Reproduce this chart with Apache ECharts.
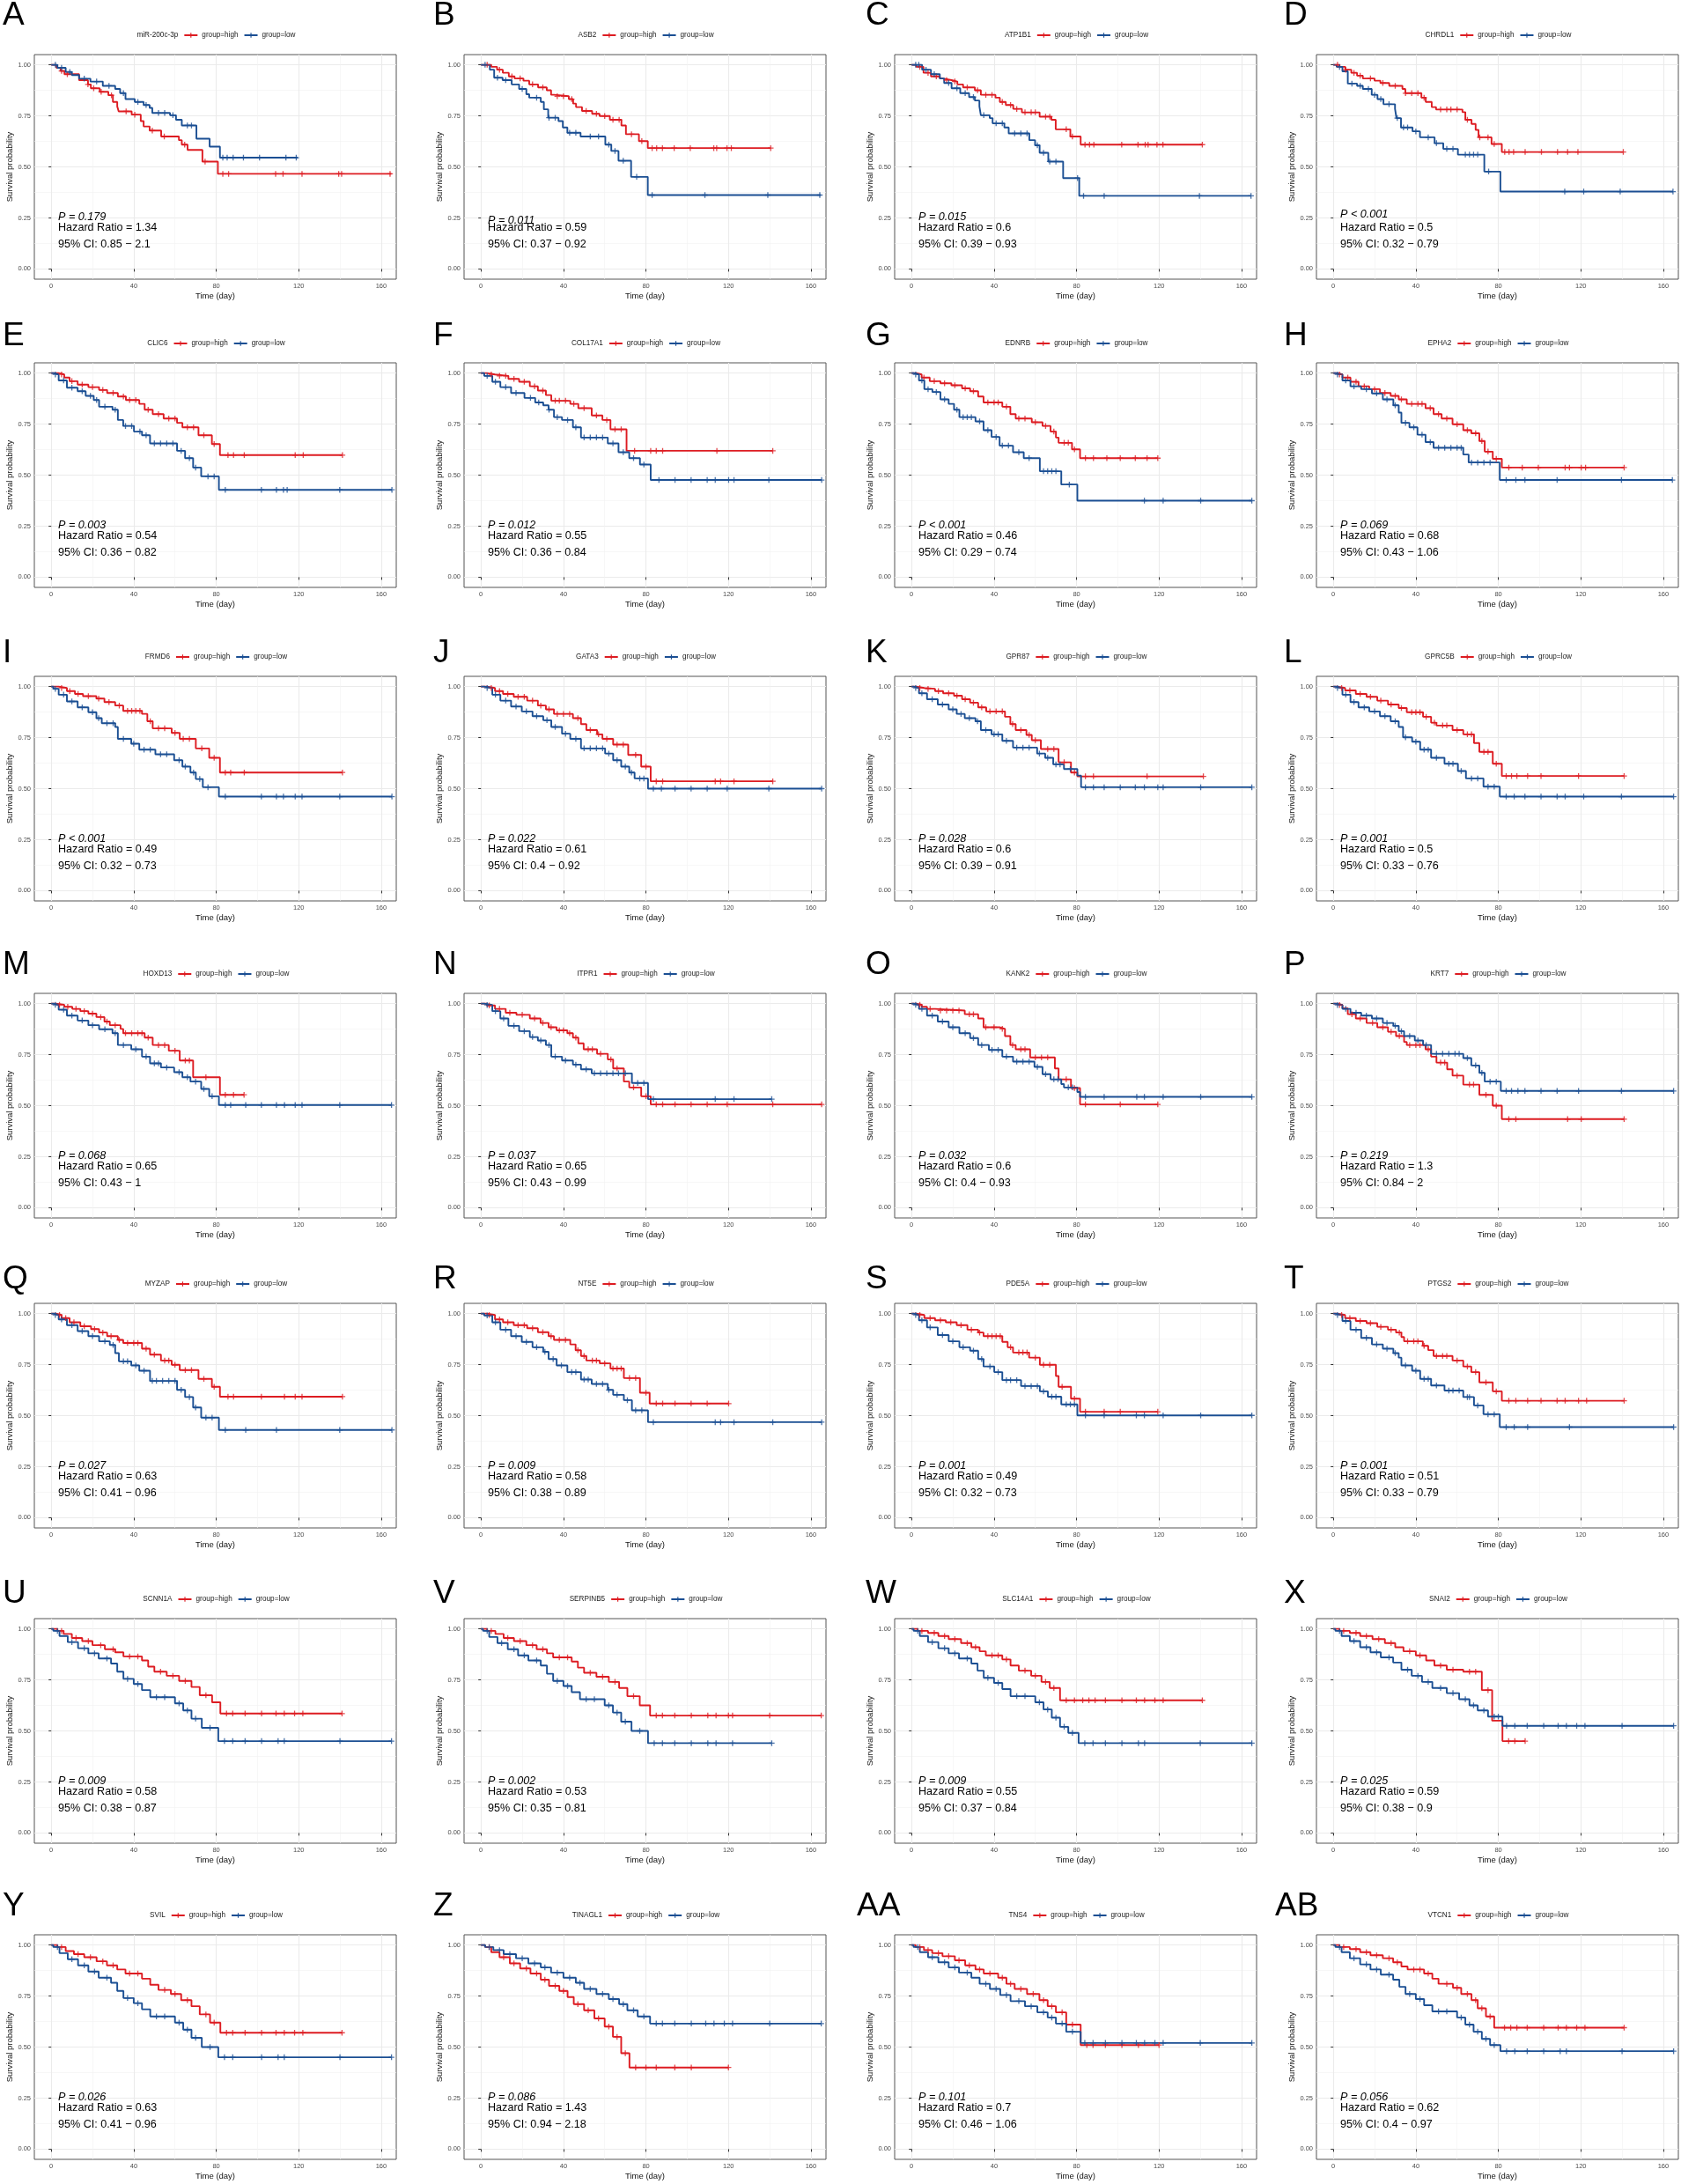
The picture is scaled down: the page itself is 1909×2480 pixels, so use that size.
<!DOCTYPE html>
<html>
<head>
<meta charset="utf-8">
<script src="https://cdn.jsdelivr.net/npm/echarts@6/dist/echarts.min.js"></script>
<style>
  html, body { margin: 0; padding: 0; background: #fff; }
  #chart { width: 1909px; height: 2480px; }
</style>
</head>
<body>
<div id="chart"></div>
<script>
// ---- panel text ----
var panelLetters = ['A','B','C','D','E','F','G','H','I','J','K','L','M','N','O','P','Q','R','S','T','U','V','W','X','Y','Z','AA','AB'];
var genes = ['miR-200c-3p','ASB2','ATP1B1','CHRDL1','CLIC6','COL17A1','EDNRB','EPHA2','FRMD6','GATA3','GPR87','GPRC5B','HOXD13','ITPR1','KANK2','KRT7','MYZAP','NT5E','PDE5A','PTGS2','SCNN1A','SERPINB5','SLC14A1','SNAI2','SVIL','TINAGL1','TNS4','VTCN1'];
var pValues = ['0.179','0.011','0.015','<0.001','0.003','0.012','<0.001','0.069','<0.001','0.022','0.028','0.001','0.068','0.037','0.032','0.219','0.027','0.009','0.001','0.001','0.009','0.002','0.009','0.025','0.026','0.086','0.101','0.056'];
var hazardRatios = [1.34,0.59,0.6,0.5,0.54,0.55,0.46,0.68,0.49,0.61,0.6,0.5,0.65,0.65,0.6,1.3,0.63,0.58,0.49,0.51,0.58,0.53,0.55,0.59,0.63,1.43,0.7,0.62];
var ciLower = [0.85,0.37,0.39,0.32,0.36,0.36,0.29,0.43,0.32,0.4,0.39,0.33,0.43,0.43,0.4,0.84,0.41,0.38,0.32,0.33,0.38,0.35,0.37,0.38,0.41,0.94,0.46,0.4];
var ciUpper = [2.1,0.92,0.93,0.79,0.82,0.84,0.74,1.06,0.73,0.92,0.91,0.76,1,0.99,0.93,2,0.96,0.89,0.73,0.79,0.87,0.81,0.84,0.9,0.96,2.18,1.06,0.97];

var xTicks = [0, 40, 80, 120, 160];
var xMinorTicks = [20, 60, 100, 140];
var yTicks = [0, 0.25, 0.5, 0.75, 1];
var yMinorTicks = [0.125, 0.375, 0.625, 0.875];

// ---- survival curves: [day, survival after drop] ----
var hiA = [[0,1],[2.5,0.985],[4.5,0.97],[6.4,0.954],[13.5,0.925],[17.8,0.904],[19.2,0.885],[23.5,0.868],[27.7,0.851],[29.9,0.818],[32,0.796],[32.7,0.772],[39,0.756],[43.4,0.724],[44.8,0.698],[47.7,0.678],[53.3,0.649],[61.9,0.631],[63.3,0.609],[66.1,0.583],[73.3,0.526],[80.8,0.466],[165,0.466]];
var loA = [[0,1],[3,0.985],[7,0.965],[10,0.95],[13.5,0.932],[19,0.918],[25,0.897],[31,0.882],[33.4,0.861],[36,0.832],[40.5,0.818],[44.8,0.803],[47.7,0.789],[49,0.764],[57.6,0.753],[60.5,0.731],[63.3,0.703],[70.4,0.638],[76.8,0.599],[81.8,0.545],[119.5,0.545]];
var hiB = [[0,1],[5,0.99],[7.8,0.976],[10.6,0.961],[13.5,0.943],[16.3,0.933],[20.6,0.922],[23.4,0.904],[27.7,0.889],[31.9,0.875],[34,0.853],[35.5,0.846],[42.6,0.832],[44.7,0.81],[46.1,0.793],[49,0.774],[53.9,0.76],[57.5,0.749],[62.5,0.731],[68.1,0.703],[70.3,0.66],[76.6,0.626],[80.9,0.592],[140.5,0.592]];
var loB = [[0,1],[4.3,0.976],[6.4,0.937],[10.5,0.925],[14.9,0.904],[18.5,0.882],[22,0.856],[23.4,0.839],[29,0.818],[30.5,0.782],[32.6,0.741],[37.6,0.724],[39.7,0.693],[41.9,0.667],[48.3,0.649],[60.3,0.609],[63.2,0.578],[66.7,0.53],[72.8,0.451],[80.9,0.362],[164.7,0.362]];
var hiC = [[0,1],[2.3,0.99],[5.8,0.961],[9.4,0.943],[13.7,0.933],[15.1,0.925],[19.4,0.918],[22.2,0.904],[25,0.889],[30.7,0.875],[33.6,0.853],[40.7,0.839],[42.8,0.818],[45.7,0.803],[49.3,0.784],[53.5,0.767],[62.1,0.746],[67.8,0.731],[69.9,0.684],[77,0.649],[82,0.609],[141,0.609]];
var loC = [[0,1],[5.1,0.976],[9.4,0.954],[13.7,0.933],[15.8,0.911],[19.4,0.885],[23.6,0.861],[27.9,0.842],[30.7,0.825],[32.9,0.796],[33.6,0.753],[37.9,0.739],[39.3,0.713],[45,0.693],[47.1,0.664],[57.1,0.631],[59.9,0.606],[62.1,0.569],[66.3,0.526],[73.5,0.445],[81.3,0.358],[164.6,0.358]];
var hiD = [[0,1],[3,0.99],[5.8,0.976],[8.7,0.961],[11.5,0.947],[14.3,0.933],[20,0.922],[22.8,0.911],[27.1,0.897],[33.5,0.882],[34.9,0.861],[42.7,0.839],[44.8,0.818],[47.7,0.793],[49.8,0.781],[62.6,0.768],[64,0.731],[67,0.71],[69,0.681],[70.4,0.645],[76.7,0.612],[81.7,0.573],[140.6,0.573]];
var loD = [[0,1],[1.6,0.99],[4.4,0.968],[7,0.908],[11.5,0.897],[14.3,0.882],[18.6,0.853],[21.4,0.832],[24.3,0.807],[29.9,0.784],[30.6,0.739],[32.8,0.693],[38.4,0.674],[42,0.645],[49.1,0.616],[53.3,0.588],[60.4,0.56],[73.2,0.477],[81,0.379],[164.7,0.379]];
var hiE = [[0,1],[3.6,0.993],[6.3,0.978],[8.9,0.96],[12.8,0.943],[18,0.931],[23.2,0.917],[27.1,0.902],[32.3,0.885],[36.2,0.868],[42.7,0.849],[45.3,0.82],[49.2,0.799],[54.5,0.777],[61,0.756],[63.6,0.734],[71.4,0.695],[77.9,0.652],[81.8,0.598],[141.2,0.598]];
var loE = [[0,1],[1,0.993],[3.6,0.964],[7.6,0.928],[12.8,0.911],[16.7,0.888],[20.6,0.868],[23.2,0.835],[29.7,0.82],[32.3,0.77],[34.9,0.741],[40.1,0.713],[44,0.695],[47.9,0.655],[61,0.619],[64.9,0.583],[68.8,0.537],[72.7,0.494],[81.3,0.428],[165.2,0.428]];
var hiF = [[0,1],[2.9,0.993],[6.8,0.986],[13.3,0.971],[18.5,0.957],[23.7,0.935],[27.6,0.914],[31.5,0.892],[34.1,0.864],[43.3,0.849],[47.2,0.828],[53.7,0.792],[58.9,0.77],[62.8,0.724],[70.6,0.619],[141.5,0.619]];
var loF = [[0,1],[1.6,0.986],[5.5,0.957],[9.4,0.931],[14.6,0.902],[21.1,0.878],[26.3,0.856],[30.2,0.842],[32.8,0.82],[35.4,0.784],[39.3,0.77],[44.6,0.734],[48.5,0.684],[61.5,0.655],[66.7,0.612],[71.9,0.583],[77.1,0.552],[82.3,0.476],[165.2,0.476]];
var hiG = [[0,1],[2.3,0.993],[4.9,0.978],[8.8,0.96],[14,0.95],[19.3,0.94],[24.5,0.925],[28.4,0.911],[32.3,0.885],[34.9,0.856],[44,0.835],[47.9,0.799],[50.5,0.777],[58.3,0.759],[63.5,0.741],[67.4,0.713],[70,0.684],[71.3,0.658],[77.8,0.626],[81.7,0.583],[119.4,0.583]];
var loG = [[0,1],[1,0.993],[3.6,0.964],[6.2,0.921],[10.1,0.907],[14,0.871],[18,0.849],[20.6,0.82],[23.2,0.784],[31,0.763],[34.9,0.72],[38.8,0.687],[42.7,0.644],[49.2,0.612],[54.4,0.583],[62.2,0.519],[72.6,0.454],[80.4,0.375],[165,0.375]];
var hiH = [[0,1],[1.8,0.993],[4.4,0.978],[8.3,0.957],[12.2,0.935],[17.4,0.921],[22.6,0.902],[27.8,0.888],[31.7,0.871],[35.6,0.849],[44.7,0.828],[48.6,0.799],[52.5,0.777],[57.8,0.749],[63,0.72],[66.9,0.705],[70.8,0.667],[73.4,0.615],[77.3,0.58],[81.7,0.537],[141,0.537]];
var loH = [[0,1],[1,0.993],[4.4,0.964],[8.3,0.935],[13.5,0.921],[18.7,0.9],[24,0.871],[29.1,0.842],[31.7,0.806],[33,0.756],[36.9,0.734],[40.8,0.698],[44.7,0.662],[48.6,0.634],[63,0.601],[65.6,0.562],[80.7,0.476],[164.4,0.476]];
var hiI = [[0,1],[3.6,0.993],[7.6,0.978],[11.5,0.964],[15.4,0.953],[21.9,0.941],[25.8,0.924],[31,0.907],[34.9,0.881],[44,0.866],[46.6,0.83],[49.2,0.795],[58.4,0.773],[62.3,0.744],[70.1,0.697],[76.6,0.651],[81.8,0.579],[141.2,0.579]];
var loI = [[0,1],[1,0.989],[3.6,0.96],[7.6,0.927],[12.8,0.898],[18,0.874],[21.9,0.845],[24.5,0.82],[31,0.802],[32.3,0.744],[38.8,0.72],[42.7,0.691],[50.5,0.668],[59.6,0.639],[63.6,0.608],[67.5,0.579],[70.1,0.547],[73.5,0.507],[81.3,0.461],[165.2,0.461]];
var hiJ = [[0,1],[2.9,0.993],[6.8,0.978],[10.7,0.964],[15.9,0.95],[22.4,0.931],[27.6,0.907],[31.5,0.888],[35.4,0.866],[44.6,0.845],[48.5,0.816],[51.1,0.787],[56.3,0.766],[58.9,0.744],[64.1,0.716],[71.4,0.665],[77.7,0.608],[82.3,0.536],[141.5,0.536]];
var loJ = [[0,1],[1.6,0.993],[5.5,0.96],[9.4,0.931],[14.6,0.902],[19.8,0.878],[25,0.855],[30.2,0.835],[34.1,0.802],[39.3,0.769],[43.3,0.744],[48.5,0.697],[60.2,0.672],[64.1,0.639],[68,0.608],[71.9,0.579],[74.5,0.55],[81,0.5],[165.2,0.5]];
var hiK = [[0,1],[2.3,0.993],[6.2,0.989],[11.4,0.978],[15.3,0.967],[20.6,0.955],[24.5,0.938],[28.4,0.921],[32.3,0.898],[36.2,0.878],[45.3,0.852],[47.9,0.816],[50.5,0.787],[55.7,0.763],[58.3,0.737],[62.7,0.694],[71.3,0.629],[77.3,0.579],[80.4,0.56],[141.5,0.56]];
var loK = [[0,1],[1,0.993],[3.6,0.967],[7.5,0.938],[12.7,0.912],[18,0.888],[21.9,0.866],[25.8,0.845],[31,0.83],[33.6,0.787],[38.8,0.766],[44,0.734],[49.2,0.701],[60.9,0.672],[64.8,0.651],[68.7,0.619],[73.9,0.596],[80.4,0.564],[82.2,0.507],[165,0.507]];
var hiL = [[0,1],[1.8,0.993],[5.7,0.981],[10.9,0.964],[16.1,0.95],[21.3,0.931],[26.5,0.912],[31.7,0.895],[35.6,0.874],[43.5,0.852],[47.4,0.823],[50,0.809],[57.8,0.787],[63,0.766],[68.2,0.723],[70.8,0.68],[77.3,0.622],[81.7,0.562],[141,0.562]];
var loL = [[0,1],[1,0.993],[4.4,0.96],[8.3,0.924],[12.2,0.898],[17.4,0.878],[22.6,0.855],[27.8,0.83],[31.7,0.802],[33.8,0.751],[38.2,0.73],[42.1,0.691],[47.4,0.651],[53.9,0.622],[60.4,0.586],[64.3,0.55],[72.8,0.51],[80.7,0.461],[165,0.461]];
var hiM = [[0,1],[2.3,0.994],[6.3,0.984],[10.2,0.974],[14.1,0.963],[18,0.951],[21.9,0.934],[25.8,0.912],[28.4,0.894],[33.6,0.876],[34.9,0.855],[45.3,0.833],[49.2,0.797],[57,0.769],[62.3,0.721],[68.8,0.639],[81.8,0.553],[93.5,0.553]];
var loM = [[0,1],[1,0.994],[3.6,0.97],[7.6,0.941],[12.8,0.917],[18,0.894],[23.2,0.874],[29.7,0.855],[32.3,0.797],[38.8,0.776],[44,0.74],[47.9,0.707],[53.2,0.687],[59.6,0.664],[63.6,0.639],[67.5,0.618],[72.7,0.582],[76.6,0.546],[81.3,0.503],[165,0.503]];
var hiN = [[0,1],[2.9,0.991],[6.8,0.974],[12,0.955],[17.2,0.945],[23.7,0.927],[28.9,0.905],[32.8,0.884],[36.7,0.869],[41.9,0.855],[44.6,0.833],[47.2,0.805],[49.8,0.776],[56.3,0.754],[61.5,0.726],[64.1,0.682],[69.3,0.618],[71.9,0.589],[77.7,0.546],[82.3,0.506],[165.2,0.506]];
var loN = [[0,1],[1.6,0.993],[5.5,0.963],[9.4,0.927],[13.3,0.891],[18.5,0.865],[23.7,0.836],[27.6,0.819],[31.5,0.797],[34.1,0.74],[39.3,0.721],[44.6,0.701],[48.5,0.678],[53.7,0.658],[73.2,0.611],[81,0.532],[141,0.532]];
var hiO = [[0,1],[2.3,0.994],[4.9,0.984],[7.5,0.974],[11.4,0.966],[25.8,0.948],[32.3,0.927],[34.9,0.884],[42.7,0.876],[45.3,0.841],[47.9,0.797],[50.5,0.776],[57.5,0.736],[69.5,0.682],[71.3,0.629],[77.3,0.586],[81.7,0.506],[119.4,0.506]];
var loO = [[0,1],[1,0.994],[3.6,0.974],[7.5,0.941],[12.7,0.912],[18,0.884],[23.2,0.855],[28.4,0.831],[32.3,0.797],[37.5,0.773],[44,0.74],[49.2,0.716],[59.6,0.69],[63.5,0.654],[67.4,0.629],[72.6,0.606],[73.9,0.589],[80.4,0.567],[81.7,0.543],[165,0.543]];
var hiP = [[0,1],[1.8,0.993],[4.4,0.977],[7,0.948],[10.9,0.927],[16.1,0.905],[21.3,0.884],[26.5,0.862],[30.4,0.841],[34.3,0.812],[35.6,0.797],[44.7,0.776],[47.4,0.74],[50,0.711],[55.2,0.678],[57.8,0.647],[63,0.603],[70.8,0.553],[77.3,0.5],[81.7,0.434],[141,0.434]];
var loP = [[0,1],[1,0.993],[4.4,0.974],[8.3,0.955],[13.5,0.941],[18.7,0.927],[24,0.905],[29.1,0.891],[31.7,0.865],[34.3,0.841],[39.5,0.819],[43.5,0.797],[47.4,0.754],[63,0.733],[66.9,0.697],[70.8,0.661],[73.4,0.618],[81.2,0.572],[165,0.572]];
var hiQ = [[0,1],[2.3,0.993],[5,0.978],[8.9,0.957],[14.1,0.938],[19.3,0.924],[23.2,0.907],[27.1,0.889],[32.3,0.871],[34.9,0.856],[44,0.828],[47.9,0.799],[53.2,0.77],[58.4,0.749],[62.3,0.723],[71.4,0.68],[77.9,0.641],[81.8,0.593],[141.2,0.593]];
var loQ = [[0,1],[1,0.993],[3.6,0.971],[7.6,0.943],[12.8,0.914],[18,0.889],[23.2,0.864],[28.4,0.846],[31,0.806],[32.8,0.766],[38.8,0.746],[42.7,0.72],[47.9,0.67],[61,0.626],[64.9,0.591],[68.8,0.54],[72.7,0.49],[81.3,0.43],[165.2,0.43]];
var hiR = [[0,1],[2.9,0.993],[6.8,0.971],[10.7,0.957],[15.9,0.943],[22.4,0.928],[27.6,0.909],[32.8,0.889],[35.4,0.871],[43.3,0.849],[45.9,0.82],[48.5,0.792],[51.1,0.77],[57.6,0.756],[62.8,0.731],[69.3,0.684],[77.1,0.612],[81.8,0.559],[120.1,0.559]];
var loR = [[0,1],[1.6,0.991],[5.5,0.957],[9.4,0.921],[14.6,0.889],[19.8,0.861],[25,0.835],[30.2,0.813],[32.8,0.777],[36.7,0.746],[41.9,0.713],[48.5,0.677],[53.7,0.655],[61.5,0.626],[64.1,0.602],[69.3,0.576],[73.2,0.526],[81,0.468],[165.2,0.468]];
var hiS = [[0,1],[2.3,0.993],[6.2,0.978],[11.4,0.967],[16.6,0.957],[21.9,0.943],[27.1,0.921],[32.3,0.907],[34.9,0.889],[44,0.861],[46.6,0.835],[49.2,0.809],[57,0.784],[62.2,0.749],[70,0.694],[71.3,0.641],[77.3,0.583],[81.7,0.519],[119.4,0.519]];
var loS = [[0,1],[1,0.993],[3.6,0.967],[7.5,0.932],[12.7,0.895],[18,0.864],[23.2,0.835],[28.4,0.818],[32.3,0.777],[34.9,0.741],[40.1,0.713],[44,0.674],[53.1,0.645],[62.2,0.619],[66.1,0.593],[72.6,0.555],[80.4,0.501],[165,0.501]];
var hiT = [[0,1],[1.8,0.993],[5.7,0.978],[10.9,0.964],[16.1,0.953],[21.3,0.935],[26.5,0.921],[30.4,0.907],[33,0.885],[34.3,0.864],[43.4,0.842],[46,0.821],[48.6,0.792],[57.8,0.77],[63,0.741],[66.9,0.713],[70.8,0.663],[77.3,0.619],[81.7,0.573],[141,0.573]];
var loT = [[0,1],[1,0.993],[4.4,0.964],[8.3,0.921],[13.5,0.881],[18.7,0.849],[24,0.828],[29.1,0.806],[31.7,0.784],[33,0.746],[38.2,0.72],[42.1,0.68],[47.4,0.648],[53.9,0.623],[63,0.591],[68.2,0.55],[72.8,0.507],[80.7,0.444],[165,0.444]];
var hiU = [[0,1],[3,0.99],[6,0.975],[10,0.955],[15,0.94],[20,0.92],[26,0.9],[31,0.885],[35,0.865],[44,0.845],[47,0.815],[50,0.79],[56,0.77],[62,0.745],[68,0.715],[72,0.675],[78,0.64],[82,0.585],[141,0.585]];
var loU = [[0,1],[1,0.99],[4,0.965],[8,0.935],[13,0.905],[18,0.88],[23,0.855],[29,0.83],[32,0.79],[35,0.755],[40,0.73],[44,0.7],[48,0.665],[60,0.635],[64,0.6],[68,0.56],[73,0.515],[81,0.45],[165,0.45]];
var hiV = [[0,1],[3,0.99],[7,0.975],[11,0.955],[16,0.94],[22,0.92],[27,0.9],[32,0.88],[35,0.86],[44,0.84],[47,0.81],[50,0.785],[56,0.765],[62,0.74],[67,0.71],[71,0.67],[77,0.625],[82,0.575],[165,0.575]];
var loV = [[0,1],[1,0.99],[4,0.96],[8,0.93],[13,0.9],[18,0.87],[23,0.845],[29,0.82],[32,0.78],[35,0.745],[40,0.72],[44,0.69],[48,0.655],[60,0.625],[64,0.59],[68,0.545],[73,0.5],[81,0.44],[141,0.44]];
var hiW = [[0,1],[3,0.99],[8,0.98],[13,0.965],[18,0.95],[24,0.93],[29,0.91],[33,0.89],[36,0.87],[44,0.85],[48,0.82],[52,0.795],[58,0.77],[63,0.74],[67,0.71],[72,0.65],[141,0.65]];
var loW = [[0,1],[1,0.99],[4,0.965],[8,0.935],[13,0.905],[18,0.88],[23,0.855],[29,0.83],[32,0.795],[35,0.76],[40,0.735],[44,0.705],[48,0.67],[60,0.64],[64,0.605],[68,0.565],[72,0.52],[76,0.49],[81,0.44],[165,0.44]];
var hiX = [[0,1],[3,0.99],[8,0.98],[13,0.965],[19,0.95],[25,0.93],[30,0.91],[34,0.89],[40,0.87],[45,0.845],[49,0.82],[55,0.8],[63,0.79],[72,0.7],[77,0.55],[82,0.45],[93,0.45]];
var loX = [[0,1],[1,0.99],[4,0.965],[8,0.94],[13,0.91],[18,0.885],[23,0.86],[29,0.835],[33,0.8],[38,0.77],[43,0.74],[48,0.71],[55,0.685],[61,0.655],[66,0.625],[70,0.6],[75,0.57],[82,0.525],[165,0.525]];
var hiY = [[0,1],[3,0.99],[7,0.97],[11,0.955],[16,0.94],[22,0.92],[27,0.9],[32,0.88],[36,0.86],[44,0.835],[48,0.805],[52,0.78],[58,0.76],[63,0.73],[68,0.7],[72,0.66],[77,0.62],[82,0.57],[141,0.57]];
var loY = [[0,1],[1,0.99],[4,0.96],[8,0.93],[13,0.9],[18,0.87],[23,0.84],[29,0.815],[32,0.775],[35,0.74],[40,0.715],[44,0.685],[48,0.65],[60,0.62],[64,0.585],[68,0.545],[73,0.5],[81,0.45],[165,0.45]];
var hiZ = [[0,1],[2,0.99],[5,0.965],[9,0.94],[14,0.91],[19,0.885],[24,0.86],[29,0.83],[33,0.8],[38,0.775],[42,0.745],[45,0.71],[50,0.68],[55,0.64],[60,0.6],[64,0.55],[68,0.47],[72,0.4],[120,0.4]];
var loZ = [[0,1],[2,0.99],[6,0.975],[11,0.955],[17,0.935],[23,0.91],[29,0.89],[34,0.865],[40,0.84],[46,0.815],[50,0.785],[56,0.76],[62,0.735],[67,0.71],[71,0.68],[76,0.65],[82,0.615],[165,0.615]];
var hiAA = [[0,1],[2,0.99],[6,0.975],[10,0.96],[15,0.945],[21,0.925],[26,0.9],[31,0.88],[35,0.86],[42,0.84],[46,0.81],[50,0.785],[56,0.76],[62,0.73],[66,0.7],[70,0.67],[75,0.61],[82,0.51],[120,0.51]];
var loAA = [[0,1],[1,0.99],[4,0.965],[8,0.94],[13,0.915],[18,0.89],[23,0.865],[29,0.84],[33,0.81],[38,0.785],[43,0.755],[48,0.725],[55,0.7],[61,0.67],[66,0.645],[70,0.615],[75,0.575],[82,0.52],[165,0.52]];
var hiAB = [[0,1],[3,0.99],[8,0.98],[13,0.965],[18,0.95],[24,0.935],[29,0.915],[33,0.895],[36,0.88],[44,0.86],[48,0.835],[51,0.81],[58,0.79],[62,0.76],[67,0.73],[70,0.69],[74,0.65],[78,0.595],[141,0.595]];
var loAB = [[0,1],[1,0.99],[4,0.965],[8,0.935],[13,0.905],[18,0.88],[23,0.855],[29,0.83],[32,0.795],[35,0.76],[40,0.735],[44,0.705],[48,0.675],[60,0.645],[64,0.61],[68,0.575],[72,0.54],[76,0.51],[81,0.48],[165,0.48]];

// ---- censoring days ----
var hiAc = [5,7.8,17.8,20.6,24.2,29.2,36.3,40.5,49,54.8,64.7,74.6,83.2,86,108.8,112.4,121.6,139.4,140.8,164.3];
var loAc = [2,5,9,16,22,28,35,42,46,52,55,59,66,68,83.2,85.3,88.2,93.2,101,113.8,118.8];
var hiBc = [3,9,15,19,25,30,37,40,44,51,56,60,64,67,73,78,83,85.2,88,93.7,101.5,112.9,114.3,119.3,121.4,140.5];
var loBc = [2,8,12,20,27,33,36,43,46,53,57,62,65,69,75.5,83,108.6,139.1,164.3];
var hiCc = [4,8,12,17,21,27,32,36,39,44,48,51,55,58,60,65,67,75,78,84.1,86.3,88.4,101.9,109.8,113.3,114.7,119,121.9,141];
var loCc = [2,3.5,7,11,18,22,26,30,35,41,44,50,53,56,61,64,67,70,80.5,83.4,93.4,139.6,164.6];
var hiDc = [2,6,10,13,18,24,30,35,38,41,44,52,55,57,60,65,71,75,78,83.1,85.2,87.4,93,100.9,108.7,113.6,118.6,140.6];
var loDc = [3,9,13,17,20,23,27,31,34,36,40,46,50,55,58,64,66,68,70,75.3,112.2,121.4,139.1,164.7];
var hiEc = [5,10,15,20,25,30,35,38,41,47,52,57,60,66,69,74,79,85.7,88.4,93.6,118.3,122.2,141.2];
var loEc = [2,6,10,15,19,22,26,31,36,39,43,46,50,53,56,59,63,67,70,76,79,84.4,101.9,109.2,112.6,114.4,139.9,165.2];
var hiFc = [5,9,12,16,21,26,30,36,38,41,45,50,56,61,65,68,74.5,82.3,85,88.1,114.4,141.5];
var loFc = [3,7,12,17,24,28,33,37,42,46,50,53,56,59,64,69,74,79,86.3,94.1,101.9,109.7,113.6,120.1,122.7,139.6,165.2];
var hiGc = [6,11,16,21,26,30,37,40,42,46,52,55,60,65,69,74,76,79,84.3,88.2,94.7,101.2,108.5,114.2,119.4];
var loGc = [2,5,8,12,16,22,25,27,29,33,37,41,44,47,52,57,64,66,68,70,76.5,112.9,122,140.2,165];
var hiHc = [3,7,11,15,20,25,30,33,38,41,43,47,51,55,60,65,69,72,75,79,85.1,91.6,99.4,112.4,114.5,120.2,122.3,141];
var loHc = [2,6,10,16,21,26,30,35,39,43,47,51,54,57,60,62,67,70,73,76,83.8,88.5,92.9,108.5,139.7,164.4];
var hiIc = [5,9,13,18,23,28,33,37,39,41,43,48,52,55,60,64,67,73,79,84.4,87,93.6,141.2];
var loIc = [2,6,10,15,20,23,27,30,35,40,45,48,53,56,62,65,69,72,76,84.4,101.9,109.2,112.6,118.3,121.6,139.9,165.2];
var hiJc = [5,9,13,18,21,25,29,33,37,40,43,47,53,57,61,66,69,75,80,85,88.1,113.6,116.2,122.7,141.5];
var loJc = [3,7,12,17,22,27,32,36,41,46,50,53,56,59,62,66,70,73,77,79,83.6,87.5,94.1,101.9,109.7,119.4,139.6,165.2];
var hiKc = [4,8,13,18,22,26,30,34,38,41,44,49,53,57,60,66,69,74,79,84.3,88.2,114.2,141.5];
var loKc = [2,5,10,15,20,24,28,32,36,40,42,46,51,54,57,62,66,70,72,77,84.3,88.2,93.4,101.2,108.5,112.9,119.4,122,140.2,165];
var hiLc = [4,8,13,18,23,28,33,38,40,42,45,49,53,55,60,65,67,73,75,79,83.8,86.4,89,94.2,100.7,118.9,141];
var loLc = [2,6,10,15,20,25,30,35,40,44,46,50,56,58,62,67,70,75,78,83.8,87.7,92.9,100.7,108.5,112.4,121.4,139.7,165];
var hiMc = [4,8,12,16,20,24,27,31,36,39,42,44,47,52,55,60,65,67,75,84.4,88.4,93.5];
var loMc = [2,6,10,15,20,26,31,35,41,46,50,52,56,62,66,70,74,78,84.4,87,94.3,101.9,109.2,113.1,118.3,121.6,139.9,165];
var hiNc = [4,9,14,20,26,30,34,38,40,43,46,52,54,58,63,66,74,80,85,88.1,94.1,101.9,109.7,119.4,141.5,165.2];
var loNc = [3,7,11,16,21,25,29,33,36,41,46,51,55,58,61,64,66.7,70,76,79,83.6,113.6,122.7,141];
var hiOc = [4,9,14,17,20,23,28,30,36,40,44,49,53,55,60,63,66,75,79,84.3,101.2,119.4];
var loOc = [2,5,10,15,20,26,30,34,39,42,46,51,54,57,61,65,69,71,76,78,84.3,93.4,109.2,112.9,122,140.2,165];
var hiPc = [3,9,13,19,24,28,32,37,40,42,46,52,54,60,66,68,74,79,85.1,88.5,113.6,120.2,141];
var loPc = [2,6,11,16,21,26,30,33,37,41,45,50,53,56,59,61,65,69,72,76,79,83.8,86.4,89.5,92.9,100.7,108.5,118.9,139.7,165];
var hiQc = [4,7,11,16,21,25,29,33,37,40,42,46,50,55,57,60,65,68,74,79,85.7,88.4,101.9,113.1,118.3,121.6,141.2];
var loQc = [2,5,10,15,20,26,30,35,37,41,45,49,51,54,57,60,63,67,70,75,78,84.4,94.3,109.2,139.9,165.2];
var hiRc = [4,9,13,18,21,25,30,34,38,41,47,50,54,56,60,64,66,68,72,75,80,85,88.1,94.1,101.9,109.7,120.1];
var loRc = [3,7,12,17,22,27,31,35,39,44,46,50,52,56,59,62,66,71,75,78,83.6,113.6,116.2,122.7,141.5,165.2];
var hiSc = [4,9,14,19,24,29,33,37,39,41,43,48,52,54,56,60,64,67,73,79,84.3,93.4,101.2,119.4];
var loSc = [2,5,9,15,20,25,30,34,38,42,46,48,51,55,58,61,64,68,70,75,77,79,84.3,93.4,109,112.9,122,140.2,165];
var hiTc = [4,8,13,18,23,28,32,36,39,41,44,50,53,55,60,65,69,74,79,85.1,88.5,94.2,100.7,108.5,112.4,118.9,122.8,141];
var loTc = [2,6,11,16,21,26,30,35,40,44,46,50,56,58,61,65,66,70,75,78,83.8,87.7,94.2,114.5,165];
var hiUc = [5,12,18,24,30,38,42,53,59,65,75,85,88,94,102,109,113,118,122,141];
var loUc = [3,10,16,21,27,37,42,51,55,62,66,70,77,84,88,94,102,110,113,140,165];
var hiVc = [5,13,19,25,30,38,42,53,59,65,74,85,88,94,102,110,114,120,122,140,165];
var loVc = [3,10,16,21,27,37,42,51,55,62,66,70,77,84,88,94,102,110,114,122,141];
var hiWc = [5,11,16,21,27,31,39,42,46,55,60,65,69,75,79,83,86,89,94,102,109,113,118,122,141];
var loWc = [3,10,16,21,27,37,42,51,55,62,66,70,74,78,84,88,94,102,110,113,140,165];
var hiXc = [5,11,16,22,28,37,42,52,58,66,69,75,85,88,93];
var loXc = [3,10,16,21,27,36,41,46,52,58,64,68,73,78,80,84,88,94,102,109,113,118,122,140,165];
var hiYc = [5,13,19,25,30,38,42,55,60,66,75,79,85,88,94,102,109,113,118,122,141];
var loYc = [3,10,16,21,27,37,42,51,55,62,66,70,77,84,88,102,110,113,140,165];
var hiZc = [4,11,16,22,27,31,36,40,47,52,57,62,66,70,75,80,85,94,102,120];
var loZc = [4,9,14,20,26,31,37,43,48,53,59,64,69,74,79,85,88,94,102,109,113,118,122,140,165];
var hiAAc = [4,8,13,18,23,28,33,38,44,48,53,59,64,68,73,78,85,88,94,102,110,120];
var loAAc = [3,10,16,21,27,36,41,46,52,58,64,68,73,78,84,88,94,102,109,113,118,122,140,165];
var hiABc = [5,11,16,21,27,31,39,42,46,55,60,65,69,72,76,83,86,89,94,102,109,113,118,122,141];
var loABc = [3,10,16,21,27,37,42,51,55,62,66,70,74,78,84,88,94,102,110,113,140,165];

var highCurves = [hiA,hiB,hiC,hiD,hiE,hiF,hiG,hiH,hiI,hiJ,hiK,hiL,hiM,hiN,hiO,hiP,hiQ,hiR,hiS,hiT,hiU,hiV,hiW,hiX,hiY,hiZ,hiAA,hiAB];
var lowCurves = [loA,loB,loC,loD,loE,loF,loG,loH,loI,loJ,loK,loL,loM,loN,loO,loP,loQ,loR,loS,loT,loU,loV,loW,loX,loY,loZ,loAA,loAB];
var highCensor = [hiAc,hiBc,hiCc,hiDc,hiEc,hiFc,hiGc,hiHc,hiIc,hiJc,hiKc,hiLc,hiMc,hiNc,hiOc,hiPc,hiQc,hiRc,hiSc,hiTc,hiUc,hiVc,hiWc,hiXc,hiYc,hiZc,hiAAc,hiABc];
var lowCensor = [loAc,loBc,loCc,loDc,loEc,loFc,loGc,loHc,loIc,loJc,loKc,loLc,loMc,loNc,loOc,loPc,loQc,loRc,loSc,loTc,loUc,loVc,loWc,loXc,loYc,loZc,loAAc,loABc];

// ---- layout (pixels) ----
var colLeft = [39, 527, 1016, 1495];
var rowTop = [62, 412, 768, 1128, 1480, 1838, 2197];
var boxW = 411, boxH = 255;
var letterX = [3, 492, 983, 1458];
var letterY = [18, 382, 742, 1096, 1453, 1810, 2165];
var pShift = { B: 3.5, D: -3 };

var FONT = '"Liberation Sans", Arial, Helvetica, sans-serif';
var RED = '#DD1C22';
var BLUE = '#1B4F93';
var PLUS = 'path://M4,0H6V4H10V6H6V10H4V6H0V4H4Z';

var measureCtx = document.createElement('canvas').getContext('2d');
function textWidth(str, size) {
    measureCtx.font = size + 'px ' + FONT;
    return measureCtx.measureText(str).width;
}

// survival value of a step curve at a given day
function survivalAt(curve, day) {
    var s = 1;
    for (var k = 0; k < curve.length; k++) {
        if (curve[k][0] <= day) s = curve[k][1];
        else break;
    }
    return s;
}

function ChartLoad() {
    var dom = document.getElementById('chart');
    var chart = echarts.init(dom, null, { renderer: 'canvas' });

    var option = {
        animation: false,
        backgroundColor: '#fff',
        grid: [], xAxis: [], yAxis: [], legend: [], series: [], graphic: []
    };

    for (var i = 0; i < genes.length; i++) {
        var row = Math.floor(i / 4), col = i % 4;
        var left = colLeft[col], top = rowTop[row];
        var letter = panelLetters[i];

        option.grid.push({
            left: left, top: top, width: boxW, height: boxH,
            show: true, backgroundColor: '#fff', borderColor: '#555', borderWidth: 1
        });

        // major x axis
        option.xAxis.push({
            gridIndex: i, type: 'value', min: -8.2, max: 167.3,
            axisLine: { show: false },
            axisTick: { show: true, length: 3, customValues: xTicks, lineStyle: { color: '#333', width: 1 } },
            axisLabel: { customValues: xTicks, fontSize: 7.5, color: '#4d4d4d', margin: 4, fontFamily: FONT },
            splitLine: { show: true, lineStyle: { color: '#ebebeb', width: 1.1 } },
            name: 'Time (day)', nameLocation: 'middle', nameGap: 14,
            nameTextStyle: { fontSize: 9.5, color: '#111', fontFamily: FONT }
        });
        // minor x grid
        option.xAxis.push({
            gridIndex: i, type: 'value', min: -8.2, max: 167.3,
            axisLine: { show: false },
            axisTick: { show: false, customValues: xMinorTicks },
            axisLabel: { show: false },
            splitLine: { show: true, lineStyle: { color: '#f2f2f2', width: 0.6 } }
        });
        // major y axis
        option.yAxis.push({
            gridIndex: i, type: 'value', min: -0.05, max: 1.05,
            axisLine: { show: false },
            axisTick: { show: true, length: 3, customValues: yTicks, lineStyle: { color: '#333', width: 1 } },
            axisLabel: {
                customValues: yTicks, fontSize: 7.5, color: '#4d4d4d', margin: 4, fontFamily: FONT,
                formatter: function (v) { return Number(v).toFixed(2); }
            },
            splitLine: { show: true, lineStyle: { color: '#ebebeb', width: 1.1 } },
            name: 'Survival probability', nameLocation: 'middle', nameGap: 22,
            nameTextStyle: { fontSize: 9.5, color: '#111', fontFamily: FONT }
        });
        // minor y grid
        option.yAxis.push({
            gridIndex: i, type: 'value', min: -0.05, max: 1.05,
            axisLine: { show: false },
            axisTick: { show: false, customValues: yMinorTicks },
            axisLabel: { show: false },
            splitLine: { show: true, lineStyle: { color: '#f2f2f2', width: 0.6 } }
        });

        var groups = [
            { name: 'group=high', color: RED, curve: highCurves[i], censor: highCensor[i] },
            { name: 'group=low', color: BLUE, curve: lowCurves[i], censor: lowCensor[i] }
        ];
        groups.forEach(function (g) {
            option.series.push({
                type: 'line', name: g.name, xAxisIndex: 2 * i, yAxisIndex: 2 * i,
                data: g.curve, step: 'end',
                symbol: PLUS, symbolSize: 6, showSymbol: false, silent: true, z: 3,
                lineStyle: { color: g.color, width: 1.9 },
                itemStyle: { color: g.color },
                emphasis: { disabled: true }
            });
            option.series.push({
                type: 'scatter', name: g.name + ' censored', xAxisIndex: 2 * i, yAxisIndex: 2 * i,
                data: g.censor.map(function (d) { return [d, survivalAt(g.curve, d)]; }),
                symbol: PLUS, symbolSize: 6.5, silent: true, z: 4,
                itemStyle: { color: g.color },
                emphasis: { disabled: true }
            });
        });

        // legend: gene name then the two groups, centred over the panel
        var legendY = top - 22;
        var titleW = textWidth(genes[i], 8.2);
        var itemsW = 2 * (15 + 5) + textWidth('group=high', 8.2) + 6 + textWidth('group=low', 8.2);
        var startX = left + boxW / 2 - (titleW + 6 + itemsW) / 2;
        option.graphic.push({
            type: 'text', x: startX, y: legendY, z: 100,
            style: { text: genes[i], font: '8.2px ' + FONT, fill: '#1a1a1a',
                     textAlign: 'left', textVerticalAlign: 'middle', align: 'left', verticalAlign: 'middle' }
        });
        option.legend.push({
            left: startX + titleW + 6, top: legendY - 4, padding: 0,
            itemGap: 6, itemWidth: 15, itemHeight: 7, selectedMode: false,
            data: ['group=high', 'group=low'],
            textStyle: { fontSize: 8.2, color: '#1a1a1a', fontFamily: FONT }
        });

        // panel letter
        option.graphic.push({
            type: 'text', x: letterX[col] - (letter.length > 1 ? 10 : 0), y: letterY[row], z: 100,
            style: { text: letter, font: '37px ' + FONT, fill: '#000',
                     textAlign: 'left', textVerticalAlign: 'middle', align: 'left', verticalAlign: 'middle' }
        });

        // statistics text
        var pText = pValues[i].charAt(0) === '<' ? 'P < ' + pValues[i].slice(1) : 'P = ' + pValues[i];
        var tx = left + 27;
        var lines = [
            { text: pText, dy: 184.5 + (pShift[letter] || 0), italic: true },
            { text: 'Hazard Ratio = ' + hazardRatios[i], dy: 197 },
            { text: '95% CI: ' + ciLower[i] + ' \u2212 ' + ciUpper[i], dy: 215.5 }
        ];
        lines.forEach(function (ln) {
            option.graphic.push({
                type: 'text', x: tx, y: top + ln.dy, z: 100,
                style: { text: ln.text, font: (ln.italic ? 'italic ' : '') + '12.6px ' + FONT, fill: '#000',
                         textAlign: 'left', textVerticalAlign: 'middle', align: 'left', verticalAlign: 'middle' }
            });
        });
    }

    if (option && typeof option === 'object') {
        chart.setOption(option, true);
    }
}

ChartLoad();
</script>
</body>
</html>
